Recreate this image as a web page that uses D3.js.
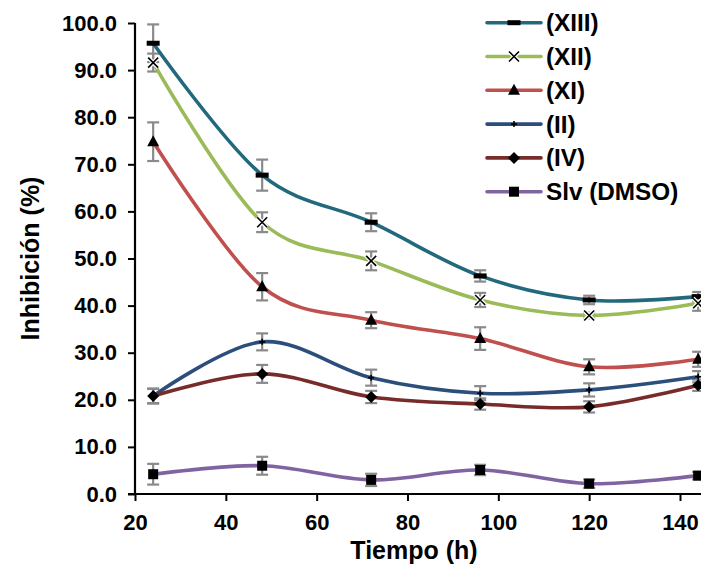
<!DOCTYPE html>
<html>
<head>
<meta charset="utf-8">
<script src="https://cdn.jsdelivr.net/npm/d3@7"></script>
<style>
  html, body { margin: 0; padding: 0; background: #fff; }
  svg { display: block; font-family: "Liberation Sans", Arial, sans-serif; font-weight: bold; }
</style>
</head>
<body>
<svg id="chart" width="701" height="567"></svg>
<script>
// Time points (h)
const hours = [24, 48, 72, 96, 120, 144];

// Series names as shown in the legend
const seriesNames = ["(XIII)", "(XII)", "(XI)", "(II)", "(IV)", "Slv (DMSO)"];

// Mean inhibition (%) per series
const valXIII = [95.7, 67.7, 57.7, 46.3, 41.2, 41.9];
const valXII  = [91.6, 57.7, 49.5, 41.2, 37.9, 40.5];
const valXI   = [74.8, 44.0, 36.9, 33.0, 27.0, 28.6];
const valII   = [20.8, 32.3, 24.7, 21.4, 22.1, 24.9];
const valIV   = [20.8, 25.5, 20.6, 19.1, 18.5, 23.1];
const valSlv  = [4.2, 6.0, 3.0, 5.1, 2.2, 3.9];

// Error (± %) per series
const errXIII = [4.0, 3.3, 1.9, 1.2, 0.9, 1.0];
const errXII  = [1.9, 2.1, 2.0, 1.5, 0.6, 1.6];
const errXI   = [4.1, 2.9, 1.7, 2.4, 1.6, 1.6];
const errII   = [1.5, 1.8, 1.7, 1.5, 1.4, 1.2];
const errIV   = [1.6, 1.9, 1.3, 1.2, 1.2, 1.2];
const errSlv  = [2.2, 1.9, 1.3, 1.1, 0.9, 0.8];

// Axis ticks
const xTicks = [20, 40, 60, 80, 100, 120, 140];
const yTicks = [0, 10, 20, 30, 40, 50, 60, 70, 80, 90, 100];

const colors  = ["#23697D", "#9BBB59", "#C0504D", "#2C4E7B", "#772C2A", "#8064A2"];
const markers = ["dash", "cross", "triangle", "plus", "diamond", "square"];
const values  = [valXIII, valXII, valXI, valII, valIV, valSlv];
const errors  = [errXIII, errXII, errXI, errII, errIV, errSlv];

const series = seriesNames.map((name, i) => ({
  name, color: colors[i], marker: markers[i],
  points: hours.map((h, j) => ({ x: h, y: values[i][j], e: errors[i][j] }))
}));

const svg = d3.select("#chart");

const x = d3.scaleLinear().domain([20, 145]).range([135, 702.7]);
const y = d3.scaleLinear().domain([0, 100]).range([494, 23]);

const FONT = "'Liberation Sans', Arial, sans-serif";

// Axes
const yAxis = svg.append("g")
  .attr("transform", `translate(${x(20)},0)`)
  .call(d3.axisLeft(y).tickValues(yTicks).tickSize(7).tickPadding(11).tickFormat(d3.format(".1f")));
const xAxis = svg.append("g")
  .attr("transform", `translate(0,${y(0)})`)
  .call(d3.axisBottom(x).tickValues(xTicks).tickSize(7).tickPadding(13).tickFormat(d3.format("d")));

[yAxis, xAxis].forEach(g => {
  g.select(".domain").attr("stroke", "#000").attr("stroke-width", 2.2);
  g.selectAll(".tick line").attr("stroke", "#000").attr("stroke-width", 2);
  g.selectAll(".tick text").attr("fill", "#000")
    .style("font-size", "22px").style("font-weight", "bold")
    .style("font-family", FONT);
});
// Extend the x axis line a little left, past the y axis
xAxis.select(".domain").attr("d", `M${x(20) - 7},0H702.7`);
yAxis.select(".domain").attr("d", `M0,${y(100)}V${y(0)}`);

// Axis titles
svg.append("text")
  .attr("x", 414).attr("y", 559)
  .attr("text-anchor", "middle")
  .style("font-size", "25px")
  .text("Tiempo (h)");
svg.append("text")
  .attr("transform", `translate(39,${(y(0) + y(100)) / 2}) rotate(-90)`)
  .attr("text-anchor", "middle")
  .style("font-size", "25px")
  .text("Inhibición (%)");

// Smoothed lines
const line = d3.line()
  .x(d => x(d.x)).y(d => y(d.y))
  .curve(d3.curveCatmullRom.alpha(0));

const plot = svg.append("g");

// Error bars (drawn under the lines)
series.forEach(s => {
  const eb = plot.append("g").attr("stroke", "#8a8a8a").attr("stroke-width", 2.2).attr("fill", "none");
  s.points.forEach(p => {
    const cx = x(p.x), y1 = y(p.y + p.e), y2 = y(p.y - p.e);
    eb.append("line").attr("x1", cx).attr("x2", cx).attr("y1", y1).attr("y2", y2);
    eb.append("line").attr("x1", cx - 6).attr("x2", cx + 6).attr("y1", y1).attr("y2", y1);
    eb.append("line").attr("x1", cx - 6).attr("x2", cx + 6).attr("y1", y2).attr("y2", y2);
  });
});

series.forEach(s => {
  plot.append("path")
    .datum(s.points)
    .attr("d", line)
    .attr("fill", "none")
    .attr("stroke", s.color)
    .attr("stroke-width", 3.6)
    .attr("stroke-linecap", "round");
});

function drawMarker(g, type, cx, cy) {
  switch (type) {
    case "dash":
      g.append("rect").attr("x", cx - 6.5).attr("y", cy - 2.5).attr("width", 13).attr("height", 5).attr("fill", "#000");
      break;
    case "cross":
      g.append("path").attr("d", `M${cx - 5},${cy - 5}L${cx + 5},${cy + 5}M${cx - 5},${cy + 5}L${cx + 5},${cy - 5}`)
        .attr("stroke", "#fff").attr("stroke-width", 4);
      g.append("path").attr("d", `M${cx - 5},${cy - 5}L${cx + 5},${cy + 5}M${cx - 5},${cy + 5}L${cx + 5},${cy - 5}`)
        .attr("stroke", "#000").attr("stroke-width", 1.6);
      break;
    case "triangle":
      g.append("path").attr("d", `M${cx},${cy - 6.5}L${cx + 6},${cy + 4.5}L${cx - 6},${cy + 4.5}Z`).attr("fill", "#000");
      break;
    case "plus":
      g.append("path").attr("d", `M${cx - 3},${cy}H${cx + 3}M${cx},${cy - 3}V${cy + 3}`)
        .attr("stroke", "#000").attr("stroke-width", 1.6);
      break;
    case "diamond":
      g.append("path").attr("d", `M${cx},${cy - 6}L${cx + 6},${cy}L${cx},${cy + 6}L${cx - 6},${cy}Z`).attr("fill", "#000");
      break;
    case "square":
      g.append("rect").attr("x", cx - 5).attr("y", cy - 5).attr("width", 10).attr("height", 10).attr("fill", "#000");
      break;
  }
}

series.forEach(s => {
  const mg = plot.append("g");
  s.points.forEach(p => drawMarker(mg, s.marker, x(p.x), y(p.y)));
});

// Legend
const legend = svg.append("g");
series.forEach((s, i) => {
  const ly = 22.7 + i * 33.8;
  legend.append("line")
    .attr("x1", 487).attr("x2", 541).attr("y1", ly).attr("y2", ly)
    .attr("stroke", s.color).attr("stroke-width", 3.6).attr("stroke-linecap", "round");
  drawMarker(legend, s.marker, 514, ly);
  legend.append("text")
    .attr("x", 546).attr("y", ly + 8.5)
    .style("font-size", "24.3px")
    .text(s.name);
});
</script>
</body>
</html>
